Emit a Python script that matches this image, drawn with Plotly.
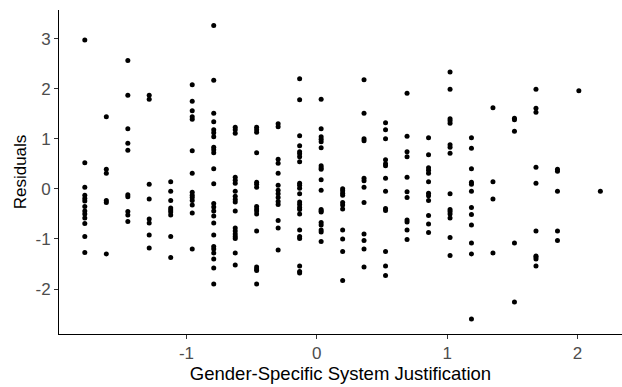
import plotly.graph_objects as go

# Gender-specific system justification levels (x positions of the point columns)
gsj_levels = [-1.780, -1.615, -1.450, -1.286, -1.121, -0.956, -0.791, -0.626,
              -0.462, -0.297, -0.132, 0.033, 0.198, 0.362, 0.527, 0.692,
              0.857, 1.022, 1.186, 1.351, 1.516, 1.681, 1.846, 2.010, 2.175]

# Residuals observed at each level (same order as gsj_levels)
residuals = [
    [2.97, 0.52, 0.03, -0.13, -0.19, -0.24, -0.35, -0.44, -0.50, -0.58, -0.69, -0.95, -1.27],
    [1.44, 0.39, 0.31, -0.23, -0.27, -1.30],
    [2.56, 1.87, 1.20, 0.91, 0.77, -0.12, -0.16, -0.45, -0.52, -0.65],
    [1.87, 1.79, 0.09, -0.20, -0.60, -0.68, -0.92, -1.18],
    [0.14, -0.05, -0.23, -0.38, -0.42, -0.46, -0.52, -0.95, -1.37],
    [2.08, 1.75, 1.56, 1.44, 1.39, 0.76, 0.31, -0.07, -0.13, -0.17, -0.23, -0.32, -0.48, -1.20],
    [3.26, 2.17, 1.51, 1.34, 1.18, 1.12, 1.04, 0.83, 0.78, 0.72, 0.40, 0.10, -0.29, -0.36,
     -0.44, -0.54, -0.68, -0.92, -1.15, -1.20, -1.28, -1.40, -1.58, -1.90],
    [1.23, 1.18, 1.11, 0.23, 0.17, 0.11, -0.05, -0.15, -0.21, -0.26, -0.44, -0.78, -0.84,
     -0.90, -0.95, -0.99, -1.28, -1.52],
    [1.23, 1.18, 1.13, 0.72, 0.13, 0.09, 0.03, -0.35, -0.40, -0.44, -0.50, -0.84, -1.56,
     -1.60, -1.63, -1.90],
    [1.30, 1.24, 0.59, 0.51, 0.31, 0.07, -0.03, -0.10, -0.17, -0.25, -0.31, -0.63, -0.78, -1.22],
    [2.20, 1.78, 1.06, 0.86, 0.74, 0.70, 0.64, 0.54, 0.11, 0.07, 0.01, -0.10, -0.26, -0.31,
     -0.37, -0.41, -0.50, -0.82, -0.95, -0.99, -1.54, -1.65, -1.68],
    [1.79, 1.20, 1.04, 0.99, 0.94, 0.82, 0.46, 0.42, 0.39, 0.18, -0.03, -0.41, -0.44, -0.46,
     -0.67, -0.72, -0.82, -0.86, -1.05],
    [0.00, -0.04, -0.09, -0.13, -0.27, -0.32, -0.40, -0.82, -1.00, -1.25, -1.83],
    [2.18, 1.51, 1.00, 0.96, 0.21, 0.16, 0.03, -0.27, -0.90, -1.03, -1.20, -1.56],
    [1.32, 1.18, 1.00, 0.58, 0.50, 0.46, 0.21, -0.05, -0.39, -0.43, -1.25, -1.54, -1.73],
    [1.91, 1.05, 0.74, 0.64, 0.23, -0.06, -0.17, -0.62, -0.66, -0.82, -1.01],
    [1.02, 0.68, 0.42, 0.37, 0.31, 0.14, -0.09, -0.14, -0.23, -0.53, -0.70, -0.87],
    [2.33, 1.99, 1.40, 1.36, 1.31, 0.88, 0.83, 0.71, -0.10, -0.41, -0.45, -0.50, -0.58,
     -0.97, -1.33],
    [1.02, 0.81, 0.40, 0.13, 0.09, -0.05, -0.37, -0.51, -0.72, -1.08, -1.30, -2.60],
    [1.62, 0.14, -0.20, -1.28],
    [1.41, 1.38, 1.15, -1.08, -2.26],
    [1.99, 1.61, 1.53, 0.43, 0.11, -0.84, -1.34, -1.36, -1.40, -1.54],
    [0.39, 0.35, -0.05, -0.84, -1.03],
    [1.96],
    [-0.05],
]

x_ticks = [-1, 0, 1, 2]
x_tick_labels = ["-1", "0", "1", "2"]
y_ticks = [-2, -1, 0, 1, 2, 3]
y_tick_labels = ["-2", "-1", "0", "1", "2", "3"]

xs, ys = [], []
for lvl, vals in zip(gsj_levels, residuals):
    for v in vals:
        xs.append(lvl)
        ys.append(v)

FONT = "Liberation Sans, Arial, sans-serif"

fig = go.Figure(go.Scatter(
    x=xs, y=ys, mode="markers",
    marker=dict(size=5, color="black", line=dict(width=0)),
    hoverinfo="x+y", showlegend=False,
))

axis_common = dict(
    showgrid=False, zeroline=False, showline=True, linecolor="black", linewidth=1,
    ticks="outside", ticklen=4, tickwidth=1, tickcolor="#333333",
    tickfont=dict(family=FONT, size=17, color="#4D4D4D"),
)

fig.update_layout(
    width=622, height=387,
    margin=dict(l=59, r=0, t=10, b=53),
    paper_bgcolor="white", plot_bgcolor="white",
    xaxis=dict(range=[-1.978, 2.341], tickvals=x_ticks, ticktext=x_tick_labels,
               title=dict(text="Gender-Specific System Justification", standoff=2,
                          font=dict(family=FONT, size=18.5, color="black")),
               **axis_common),
    yaxis=dict(range=[-2.897, 3.57], tickvals=y_ticks, ticktext=y_tick_labels,
               title=dict(text="Residuals", standoff=4,
                          font=dict(family=FONT, size=17, color="black")),
               **axis_common),
)

fig.write_html("out.html")
